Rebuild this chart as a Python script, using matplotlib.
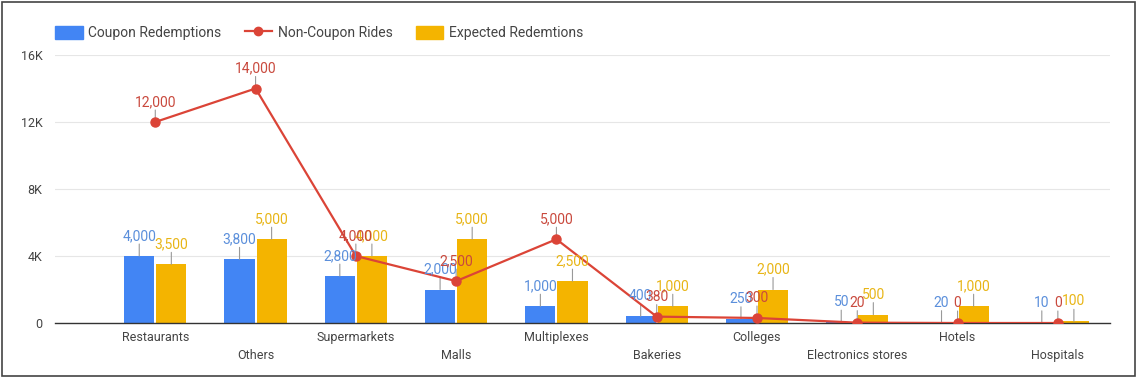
import matplotlib
matplotlib.use("Agg")
import matplotlib.pyplot as plt
from matplotlib.lines import Line2D
from matplotlib.patches import Patch, Rectangle
import numpy as np

plt.rcParams['font.family'] = ['Roboto', 'DejaVu Sans']

categories = ["Restaurants", "Others", "Supermarkets", "Malls", "Multiplexes",
              "Bakeries", "Colleges", "Electronics stores", "Hotels", "Hospitals"]
coupon = [4000, 3800, 2800, 2000, 1000, 400, 250, 50, 20, 10]
non_coupon = [12000, 14000, 4000, 2500, 5000, 380, 300, 20, 0, 0]
expected = [3500, 5000, 4000, 5000, 2500, 1000, 2000, 500, 1000, 100]
yticks = [0, 4000, 8000, 12000, 16000]
ytick_labels = ["0", "4K", "8K", "12K", "16K"]

BLUE = "#4285F4"
RED = "#DB4437"
ORANGE = "#F4B400"
BLUE_T = "#5B8FDB"
RED_T = "#C9493D"
ORANGE_T = "#E8B516"

W, H = 1136, 377
fig = plt.figure(figsize=(W / 100, H / 100), dpi=100)
ax = fig.add_axes([55 / W, 1 - 323 / H, (1110 - 55) / W, (323 - 55) / H])

x = np.arange(len(categories))
bw = 0.30
off = 0.16
ax.bar(x - off, coupon, bw, color=BLUE, zorder=2)
ax.bar(x + off, expected, bw, color=ORANGE, zorder=2)
ax.plot(x, non_coupon, color=RED, lw=1.6, marker='o', ms=6.5, zorder=4)

def label(xs, ys, color):
    for xi, yi in zip(xs, ys):
        ax.annotate("", xy=(xi, yi), xytext=(0, 12), textcoords='offset pixels',
                    arrowprops=dict(arrowstyle='-', color='#999999', lw=0.8,
                                    shrinkA=0, shrinkB=0), zorder=3)
        ax.annotate(f"{yi:,}", xy=(xi, yi), xytext=(0, 13), textcoords='offset pixels',
                    ha='center', va='bottom', color=color, fontsize=10, zorder=5)

label(x - off, coupon, BLUE_T)
label(x + off, expected, ORANGE_T)
label(x, non_coupon, RED_T)

ax.set_xlim(-1.0, 9.52)
ax.set_ylim(0, 16000)
ax.set_yticks(yticks)
ax.set_yticklabels(ytick_labels)
ax.yaxis.grid(True, color='#E6E6E6', lw=0.8, zorder=0)
ax.set_axisbelow(True)
for s in ['top', 'right', 'left']:
    ax.spines[s].set_visible(False)
ax.spines['bottom'].set_color('#333333')
ax.spines['bottom'].set_linewidth(1.0)
ax.spines['bottom'].set_zorder(3)
ax.tick_params(axis='y', length=0, pad=9, labelcolor='#444444', labelsize=9)
ax.tick_params(axis='x', length=0, pad=6, labelcolor='#444444', labelsize=9)
ax.set_xticks(x)
ax.set_xticklabels([c if i % 2 == 0 else "\n" + c for i, c in enumerate(categories)],
                   linespacing=1.45, va='top')

handles = [Patch(color=BLUE), Line2D([0], [0], color=RED, lw=1.6, marker='o', ms=6),
           Patch(color=ORANGE)]
fig.legend(handles, ["Coupon Redemptions", "Non-Coupon Rides", "Expected Redemtions"],
           loc='center left', bbox_to_anchor=(55 / W, 1 - 33 / H), ncol=3, frameon=False,
           fontsize=10, handlelength=2.0, handleheight=1.05, columnspacing=1.65,
           handletextpad=0.4, borderpad=0, borderaxespad=0, labelcolor='#444444')

fig.patches.append(Rectangle((1.5 / W, 1.5 / H), (W - 3) / W, (H - 3) / H,
                             transform=fig.transFigure, fill=False,
                             edgecolor='#444444', lw=1.2))

fig.savefig("out.png", dpi=100)
